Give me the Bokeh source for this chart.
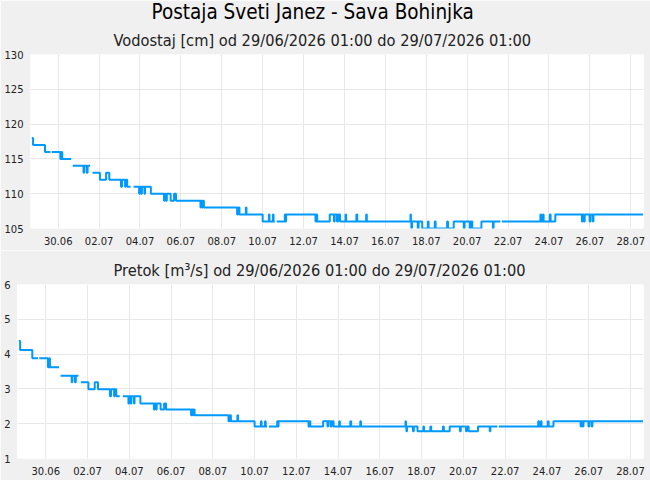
import numpy as np
import pandas as pd
from bokeh.plotting import figure
from bokeh.layouts import column
from bokeh.models import Range1d, FixedTicker, DatetimeTickFormatter, Title
from bokeh.embed import file_html
from bokeh.resources import INLINE

# ---- data (change points of the step series; None = missing data) ----
times = [
    "2026-06-28 17:00", "2026-06-28 18:30", "2026-06-29 08:30", "2026-06-29 15:00", "2026-06-29 16:30",
    "2026-06-30 02:30", "2026-06-30 04:00", "2026-06-30 04:45", "2026-06-30 15:15", "2026-06-30 17:00",
    "2026-07-01 05:45", "2026-07-01 06:30", "2026-07-01 09:30", "2026-07-01 10:30", "2026-07-01 13:30",
    "2026-07-01 16:15", "2026-07-02 01:00", "2026-07-02 08:15", "2026-07-02 12:00", "2026-07-03 01:45",
    "2026-07-03 03:00", "2026-07-03 06:30", "2026-07-03 07:15", "2026-07-03 09:00", "2026-07-03 13:00",
    "2026-07-03 16:30", "2026-07-03 23:00", "2026-07-04 00:00", "2026-07-04 01:30", "2026-07-04 02:15",
    "2026-07-04 05:15", "2026-07-04 06:00", "2026-07-04 12:45", "2026-07-05 04:15", "2026-07-05 05:15",
    "2026-07-05 06:30", "2026-07-05 07:30", "2026-07-05 12:00", "2026-07-05 16:00", "2026-07-05 18:15",
    "2026-07-06 23:00", "2026-07-06 23:45", "2026-07-07 01:00", "2026-07-07 01:45", "2026-07-07 03:00",
    "2026-07-08 18:00", "2026-07-08 19:15", "2026-07-08 20:45", "2026-07-09 04:15", "2026-07-09 05:00",
    "2026-07-10 00:00", "2026-07-10 07:15", "2026-07-10 08:00", "2026-07-10 12:00", "2026-07-10 12:45",
    "2026-07-10 14:15", "2026-07-10 16:30", "2026-07-11 02:00", "2026-07-11 02:45", "2026-07-11 03:30",
    "2026-07-12 14:00", "2026-07-12 15:00", "2026-07-12 16:00", "2026-07-13 06:45", "2026-07-13 11:45",
    "2026-07-13 12:30", "2026-07-13 15:15", "2026-07-13 16:30", "2026-07-13 18:45", "2026-07-14 01:15",
    "2026-07-14 02:00", "2026-07-14 14:00", "2026-07-14 15:00", "2026-07-15 01:30", "2026-07-15 02:15",
    "2026-07-17 05:30", "2026-07-17 06:00", "2026-07-17 06:30", "2026-07-17 07:15", "2026-07-17 14:00",
    "2026-07-17 15:00", "2026-07-17 19:15", "2026-07-18 02:00", "2026-07-18 02:45", "2026-07-18 10:00",
    "2026-07-18 11:00", "2026-07-19 00:30", "2026-07-19 01:30", "2026-07-19 08:15", "2026-07-19 20:00",
    "2026-07-19 21:00", "2026-07-20 03:00", "2026-07-20 04:00", "2026-07-20 06:00", "2026-07-20 16:45",
    "2026-07-21 06:15", "2026-07-21 07:00", "2026-07-21 15:00", "2026-07-21 16:45", "2026-07-23 14:00",
    "2026-07-23 15:00", "2026-07-23 17:00", "2026-07-23 17:45", "2026-07-24 01:00", "2026-07-24 02:00",
    "2026-07-24 07:30", "2026-07-25 14:45", "2026-07-25 15:30", "2026-07-25 17:00", "2026-07-25 18:00",
    "2026-07-25 23:45", "2026-07-26 00:45", "2026-07-26 03:30", "2026-07-26 04:15", "2026-07-28 14:30",
]

level_cm = [
    118, 117, 116, None, 116, 115, 116, 115, None, 114,
    113, 114, 113, 114, None, 113, 112, 113, 112, 111,
    112, 111, 112, 111, None, 111, 110, 111, 110, 111,
    110, 111, 110, 109, 110, 109, 110, 109, 110, 109,
    108, 109, 108, 109, 108, 107, 108, 107, 108, 107,
    106, 107, 106, 107, 106, None, 106, 107, 106, 107,
    106, 107, 106, 107, 106, 107, 106, 107, 106, 107,
    106, 107, 106, 107, 106, 107, 106, 105, 106, 105,
    106, 105, 106, 105, 106, 105, 106, 105, 106, 105,
    106, 105, 106, 105, 106, 105, 106, None, 106, 107,
    106, 107, 106, 107, 106, 107, 106, 107, 106, 107,
    106, 107, 106, 107, 107,
]

flow_m3s = [
    4.38, 4.12, 3.88, None, 3.88, 3.62, 3.88, 3.62, None, 3.38,
    3.19, 3.38, 3.19, 3.38, None, 3.19, 2.99, 3.19, 2.99, 2.79,
    2.99, 2.79, 2.99, 2.79, None, 2.79, 2.58, 2.79, 2.58, 2.79,
    2.58, 2.79, 2.58, 2.41, 2.58, 2.41, 2.58, 2.41, 2.58, 2.41,
    2.24, 2.41, 2.24, 2.41, 2.24, 2.07, 2.24, 2.07, 2.24, 2.07,
    1.92, 2.07, 1.92, 2.07, 1.92, None, 1.92, 2.07, 1.92, 2.07,
    1.92, 2.07, 1.92, 2.07, 1.92, 2.07, 1.92, 2.07, 1.92, 2.07,
    1.92, 2.07, 1.92, 2.07, 1.92, 2.07, 1.92, 1.78, 1.92, 1.78,
    1.92, 1.78, 1.92, 1.78, 1.92, 1.78, 1.92, 1.78, 1.92, 1.78,
    1.92, 1.78, 1.92, 1.78, 1.92, 1.78, 1.92, None, 1.92, 2.07,
    1.92, 2.07, 1.92, 2.07, 1.92, 2.07, 1.92, 2.07, 1.92, 2.07,
    1.92, 2.07, 1.92, 2.07, 2.07,
]

x_start = "2026-06-28 15:30"
x_end = "2026-07-28 15:00"
tick_dates = ["2026-06-30", "2026-07-02", "2026-07-04", "2026-07-06", "2026-07-08",
              "2026-07-10", "2026-07-12", "2026-07-14", "2026-07-16", "2026-07-18",
              "2026-07-20", "2026-07-22", "2026-07-24", "2026-07-26", "2026-07-28"]
level_ticks = [105, 110, 115, 120, 125, 130]
flow_ticks = [1, 2, 3, 4, 5, 6]

main_title = "Postaja Sveti Janez - Sava Bohinjka"
level_title = "Vodostaj [cm] od 29/06/2026 01:00 do 29/07/2026 01:00"
flow_title = "Pretok [m³/s] od 29/06/2026 01:00 do 29/07/2026 01:00"

LINE = "#0099ff"
BG = "#f0f0f0"
GRID = "#e8e8e8"
TFONT = "'DejaVu Sans Condensed', 'DejaVu Sans', sans-serif"


def to_ms(s):
    return pd.Timestamp(s).value / 1e6


def step_xy(ts, vals):
    # each value holds until the next change point; None breaks the line
    t = [to_ms(s) for s in ts]
    xs, ys = [], []
    for i, v in enumerate(vals):
        if i == len(vals) - 1:
            break
        if v is None:
            xs.append(t[i]); ys.append(np.nan)
        else:
            xs += [t[i], t[i + 1]]; ys += [v, v]
    return np.array(xs), np.array(ys, dtype=float)


tick_ms = [to_ms(d) for d in tick_dates]


def make_fig(h, left, top, bottom, yr, yticks):
    p = figure(width=650, height=h, x_axis_type="datetime",
               x_range=Range1d(to_ms(x_start), to_ms(x_end)),
               y_range=Range1d(yr[0], yr[1]),
               output_backend="svg", toolbar_location=None,
               min_border_left=left, min_border_right=7,
               min_border_top=top, min_border_bottom=bottom)
    if hasattr(p, "frame_align"):
        p.frame_align = False
    p.background_fill_color = "white"
    p.border_fill_color = BG
    p.outline_line_color = None
    for ax in p.axis:
        ax.axis_line_color = None
        ax.major_tick_line_color = None
        ax.minor_tick_line_color = None
        ax.major_tick_out = 0
        ax.major_tick_in = 0
        ax.minor_tick_out = 0
        ax.minor_tick_in = 0
        ax.major_label_text_font = "DejaVu Sans"
        ax.major_label_text_font_size = "10px"
        ax.major_label_text_color = "#222222"
    p.xaxis.major_label_standoff = 8
    p.yaxis.major_label_standoff = 7
    p.xaxis.ticker = FixedTicker(ticks=tick_ms)
    p.xaxis.formatter = DatetimeTickFormatter(days="%d.%m", months="%d.%m", hours="%d.%m",
                                              years="%d.%m")
    p.yaxis.ticker = FixedTicker(ticks=yticks)
    p.xgrid.grid_line_color = GRID
    p.ygrid.grid_line_color = GRID
    return p


def style_title(t, size, color, standoff, offset, valign="bottom"):
    t.align = "left"
    t.offset = offset
    t.vertical_align = valign
    t.text_font = TFONT
    t.text_font_size = size
    t.text_font_style = "normal"
    t.text_color = color
    t.standoff = standoff


p1 = make_fig(250, 30, 0, 22, (105, 130), level_ticks)
p1.title.text = main_title
style_title(p1.title, "20.5px", "#000000", -2, 121, "top")
sub1 = Title(text=level_title)
style_title(sub1, "16.25px", "#222222", 9, 83)
p1.add_layout(sub1, "above")
x1, y1 = step_xy(times, level_cm)
p1.line(x1, y1, line_color=LINE, line_width=2)

p2 = make_fig(230, 17, 34, 22, (1, 6), flow_ticks)
p2.title.text = flow_title
style_title(p2.title, "16.25px", "#222222", 10, 96)
x2, y2 = step_xy(times, flow_m3s)
p2.line(x2, y2, line_color=LINE, line_width=2)

layout = column(p1, p2, spacing=0)
open("out.html", "w").write(file_html(layout, INLINE))
